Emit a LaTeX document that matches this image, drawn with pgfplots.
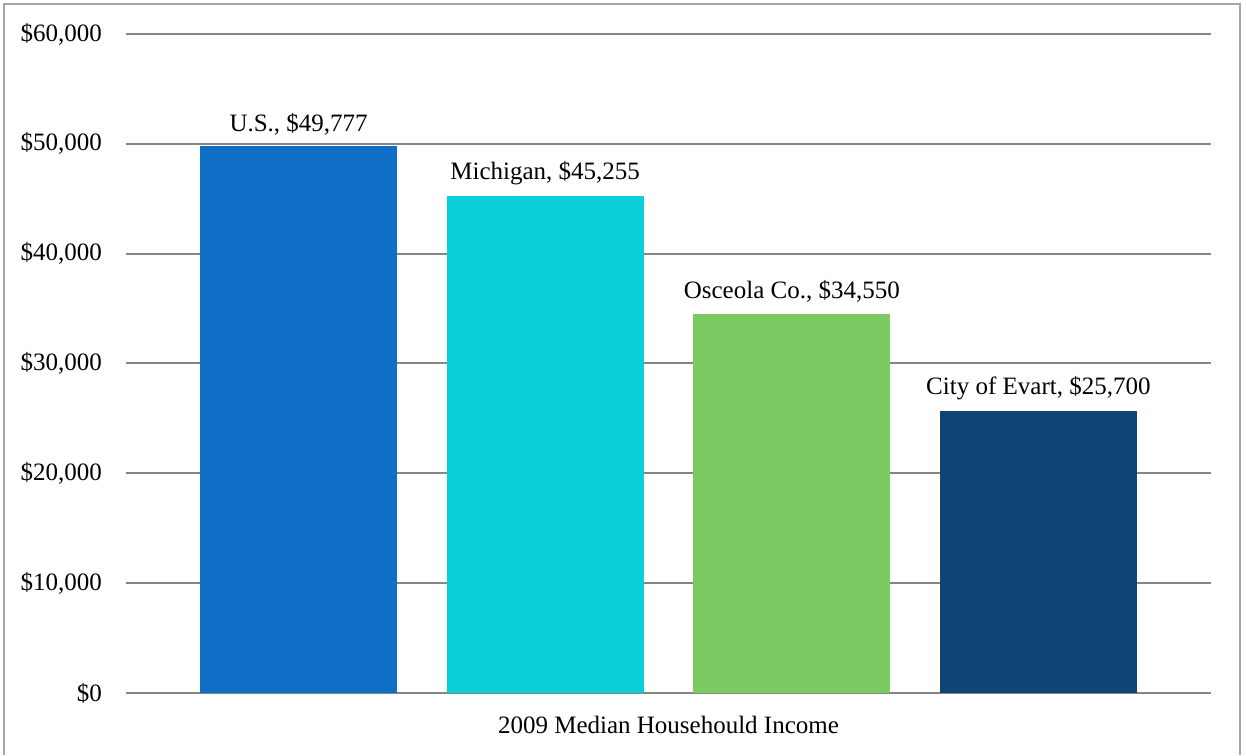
\documentclass[border=0pt]{standalone}
\usepackage{pgfplots}
\pgfplotsset{compat=1.18}
\usepackage{fontspec}
\setmainfont{Liberation Serif}
\definecolor{cUS}{HTML}{0F6FC6}
\definecolor{cMI}{HTML}{0BD0D9}
\definecolor{cOC}{HTML}{7CCA62}
\definecolor{cEV}{HTML}{0E4476}
\definecolor{gridc}{HTML}{868686}
\definecolor{framec}{HTML}{A6A6A6}
\begin{document}
\begin{tikzpicture}
\path[use as bounding box] (-63pt,-31pt) rectangle (560pt,346.5pt);
\draw[framec, line width=1pt] (-61pt,-31pt) -- (-61pt,344.5pt) -- (557pt,344.5pt) -- (557pt,-31pt);
\begin{axis}[
  at={(0pt,0pt)}, anchor=south west,
  scale only axis, width=542.5pt, height=329.5pt,
  xmin=-0.7, xmax=3.7, ymin=0, ymax=60000,
  xtick=\empty,
  scaled y ticks=false,
  ytick={0,10000,20000,30000,40000,50000,60000},
  yticklabels={{\$0},{\$10,000},{\$20,000},{\$30,000},{\$40,000},{\$50,000},{\$60,000}},
  axis line style={draw=none},
  tick style={draw=none},
  ymajorgrids,
  grid style={gridc, line width=1pt},
  yticklabel style={xshift=-8.5pt},
  /pgf/number format/assume math mode=true,
  font=\fontsize{12.5}{15}\selectfont,
  ybar, bar width=0.8, bar shift=0pt,
  nodes near coords, point meta=explicit symbolic,
  every node near coord/.append style={font=\fontsize{12.5}{15}\selectfont, black, yshift=2pt},
  clip=false,
]
\addplot[fill=cUS, draw=none] coordinates {(0,49777) [{U.S., \$49,777}]};
\addplot[fill=cMI, draw=none] coordinates {(1,45255) [{Michigan, \$45,255}]};
\addplot[fill=cOC, draw=none] coordinates {(2,34550) [{Osceola Co., \$34,550}]};
\addplot[fill=cEV, draw=none] coordinates {(3,25700) [{City of Evart, \$25,700}]};
\node[font=\fontsize{12.5}{15}\selectfont, yshift=-16pt] at (rel axis cs:0.5,0) {2009 Median Househould Income};
\end{axis}
\end{tikzpicture}
\end{document}
